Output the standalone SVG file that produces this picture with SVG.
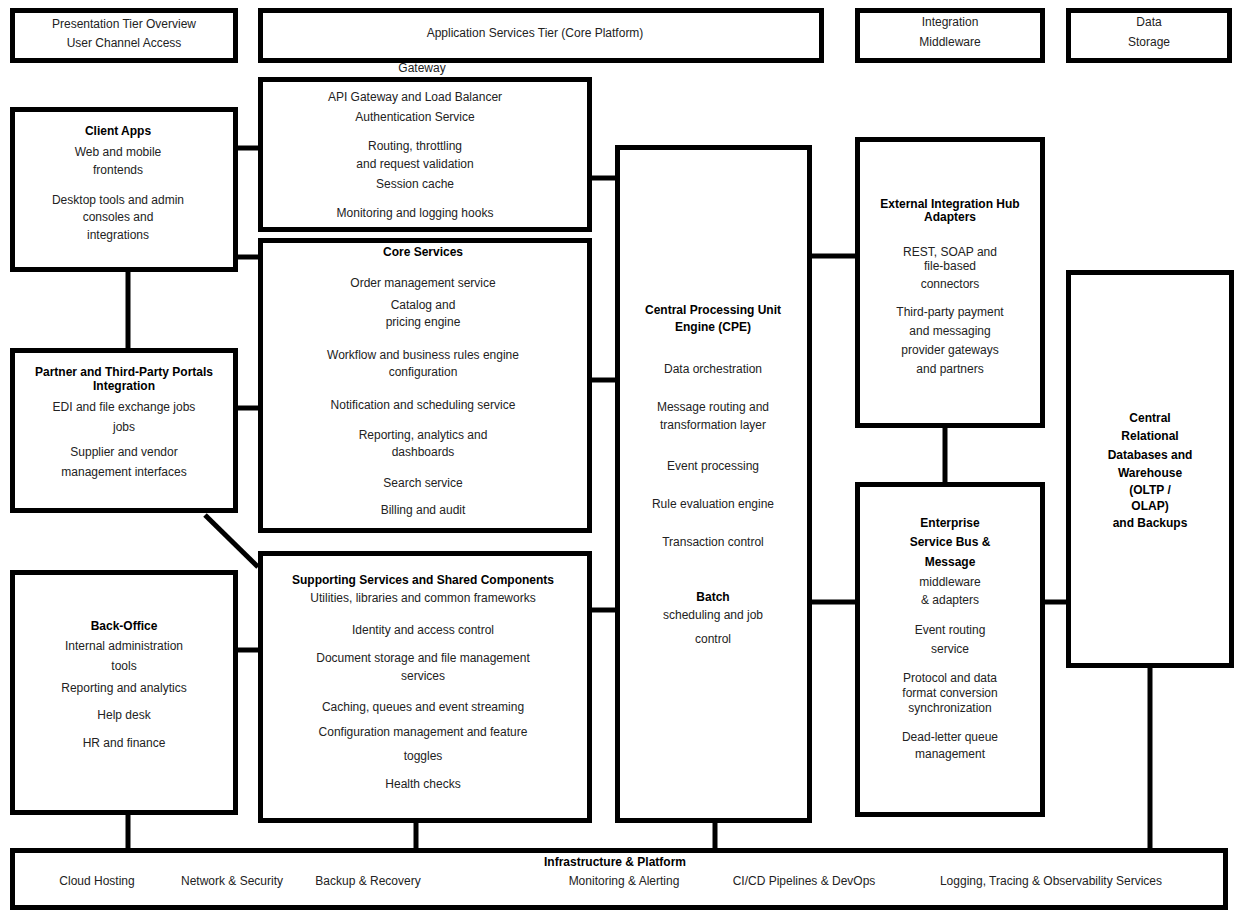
<svg xmlns="http://www.w3.org/2000/svg" width="1236" height="913" viewBox="0 0 1236 913">
<style>
.box{fill:#fff;stroke:#000;stroke-width:5}
.c{stroke:#000;stroke-width:5;fill:none}
text{font-family:"Liberation Sans",Arial,sans-serif;font-size:12px;fill:#222;text-anchor:middle}
.b{font-weight:bold;fill:#000}
</style>
<rect width="1236" height="913" fill="#fff"/>
<g id="connectors">
<line class="c" x1="238" y1="148" x2="258" y2="148"/>
<line class="c" x1="238" y1="257" x2="258" y2="257"/>
<line class="c" x1="128" y1="272" x2="128" y2="348"/>
<line class="c" x1="238" y1="408" x2="258" y2="408"/>
<line class="c" x1="205" y1="515" x2="258" y2="567"/>
<line class="c" x1="238" y1="650" x2="258" y2="650"/>
<line class="c" x1="592" y1="178" x2="615" y2="178"/>
<line class="c" x1="592" y1="380" x2="615" y2="380"/>
<line class="c" x1="592" y1="610" x2="615" y2="610"/>
<line class="c" x1="812" y1="256" x2="855" y2="256"/>
<line class="c" x1="812" y1="602" x2="855" y2="602"/>
<line class="c" x1="945" y1="428" x2="945" y2="482"/>
<line class="c" x1="1045" y1="602" x2="1066" y2="602"/>
<line class="c" x1="128" y1="815" x2="128" y2="850"/>
<line class="c" x1="416" y1="823" x2="416" y2="850"/>
<line class="c" x1="715" y1="823" x2="715" y2="850"/>
<line class="c" x1="1150" y1="668" x2="1150" y2="850"/>
</g>
<g id="t1"><rect class="box" x="12.5" y="10.5" width="223" height="50"/>
<text x="124" y="28">Presentation Tier Overview</text><text x="124" y="47">User Channel Access</text></g>
<g id="t2"><rect class="box" x="260.5" y="10.5" width="561" height="50"/>
<text x="535" y="37">Application Services Tier (Core Platform)</text></g>
<g id="t3"><rect class="box" x="857.5" y="10.5" width="185" height="50"/>
<text x="950" y="26">Integration</text><text x="950" y="46">Middleware</text></g>
<g id="t4"><rect class="box" x="1068.5" y="10.5" width="161" height="50"/>
<text x="1149" y="26">Data</text><text x="1149" y="46">Storage</text></g>
<g id="m1"><text x="422" y="72">Gateway</text>
<rect class="box" x="260.5" y="79.5" width="329" height="150"/>
<text x="415" y="101">API Gateway and Load Balancer</text>
<text x="415" y="121">Authentication Service</text>
<text x="415" y="150">Routing, throttling</text>
<text x="415" y="168">and request validation</text>
<text x="415" y="188">Session cache</text>
<text x="415" y="217">Monitoring and logging hooks</text></g>
<g id="m2"><rect class="box" x="260.5" y="240.5" width="329" height="290"/>
<text class="b" x="423" y="256">Core Services</text>
<text x="423" y="287">Order management service</text>
<text x="423" y="309">Catalog and</text>
<text x="423" y="326">pricing engine</text>
<text x="423" y="359">Workflow and business rules engine</text>
<text x="423" y="376">configuration</text>
<text x="423" y="409">Notification and scheduling service</text>
<text x="423" y="439">Reporting, analytics and</text>
<text x="423" y="456">dashboards</text>
<text x="423" y="487">Search service</text>
<text x="423" y="514">Billing and audit</text></g>
<g id="m3"><rect class="box" x="260.5" y="553.5" width="329" height="267"/>
<text class="b" x="423" y="584">Supporting Services and Shared Components</text>
<text x="423" y="602">Utilities, libraries and common frameworks</text>
<text x="423" y="634">Identity and access control</text>
<text x="423" y="662">Document storage and file management</text>
<text x="423" y="680">services</text>
<text x="423" y="711">Caching, queues and event streaming</text>
<text x="423" y="736">Configuration management and feature</text>
<text x="423" y="760">toggles</text>
<text x="423" y="788">Health checks</text></g>
<g id="c"><rect class="box" x="617.5" y="147.5" width="192" height="673"/>
<text class="b" x="713" y="314">Central Processing Unit</text>
<text class="b" x="713" y="331">Engine (CPE)</text>
<text x="713" y="373">Data orchestration</text>
<text x="713" y="411">Message routing and</text>
<text x="713" y="429">transformation layer</text>
<text x="713" y="470">Event processing</text>
<text x="713" y="508">Rule evaluation engine</text>
<text x="713" y="546">Transaction control</text>
<text class="b" x="713" y="601">Batch</text>
<text x="713" y="619">scheduling and job</text>
<text x="713" y="643">control</text></g>
<g id="r1"><rect class="box" x="857.5" y="139.5" width="185" height="286"/>
<text class="b" x="950" y="208">External Integration Hub</text>
<text class="b" x="950" y="221">Adapters</text>
<text x="950" y="256">REST, SOAP and</text>
<text x="950" y="270">file-based</text>
<text x="950" y="288">connectors</text>
<text x="950" y="316">Third-party payment</text>
<text x="950" y="335">and messaging</text>
<text x="950" y="354">provider gateways</text>
<text x="950" y="373">and partners</text></g>
<g id="r2"><rect class="box" x="857.5" y="484.5" width="185" height="330"/>
<text class="b" x="950" y="527">Enterprise</text>
<text class="b" x="950" y="546">Service Bus &amp;</text>
<text class="b" x="950" y="566">Message</text>
<text x="950" y="586">middleware</text>
<text x="950" y="604">&amp; adapters</text>
<text x="950" y="634">Event routing</text>
<text x="950" y="653">service</text>
<text x="950" y="682">Protocol and data</text>
<text x="950" y="697">format conversion</text>
<text x="950" y="712">synchronization</text>
<text x="950" y="741">Dead-letter queue</text>
<text x="950" y="758">management</text></g>
<g id="fr"><rect class="box" x="1068.5" y="272.5" width="163" height="393"/>
<text class="b" x="1150" y="422">Central</text>
<text class="b" x="1150" y="440">Relational</text>
<text class="b" x="1150" y="459">Databases and</text>
<text class="b" x="1150" y="477">Warehouse</text>
<text class="b" x="1150" y="494">(OLTP /</text>
<text class="b" x="1150" y="510">OLAP)</text>
<text class="b" x="1150" y="527">and Backups</text></g>
<g id="l1"><rect class="box" x="12.5" y="109.5" width="223" height="160"/>
<text class="b" x="118" y="135">Client Apps</text>
<text x="118" y="156">Web and mobile</text>
<text x="118" y="174">frontends</text>
<text x="118" y="204">Desktop tools and admin</text>
<text x="118" y="221">consoles and</text>
<text x="118" y="239">integrations</text></g>
<g id="l2"><rect class="box" x="12.5" y="350.5" width="223" height="160"/>
<text class="b" x="124" y="376">Partner and Third-Party Portals</text>
<text class="b" x="124" y="390">Integration</text>
<text x="124" y="411">EDI and file exchange jobs</text>
<text x="124" y="431">jobs</text>
<text x="124" y="456">Supplier and vendor</text>
<text x="124" y="476">management interfaces</text></g>
<g id="l3"><rect class="box" x="12.5" y="572.5" width="223" height="240"/>
<text class="b" x="124" y="630">Back-Office</text>
<text x="124" y="650">Internal administration</text>
<text x="124" y="670">tools</text>
<text x="124" y="692">Reporting and analytics</text>
<text x="124" y="719">Help desk</text>
<text x="124" y="747">HR and finance</text></g>
<g id="bottom"><rect class="box" x="12.5" y="850.5" width="1213" height="57"/>
<text class="b" x="615" y="866">Infrastructure &amp; Platform</text>
<text x="97" y="885">Cloud Hosting</text>
<text x="232" y="885">Network &amp; Security</text>
<text x="368" y="885">Backup &amp; Recovery</text>
<text x="624" y="885">Monitoring &amp; Alerting</text>
<text x="804" y="885">CI/CD Pipelines &amp; DevOps</text>
<text x="1051" y="885">Logging, Tracing &amp; Observability Services</text></g>
</svg>
